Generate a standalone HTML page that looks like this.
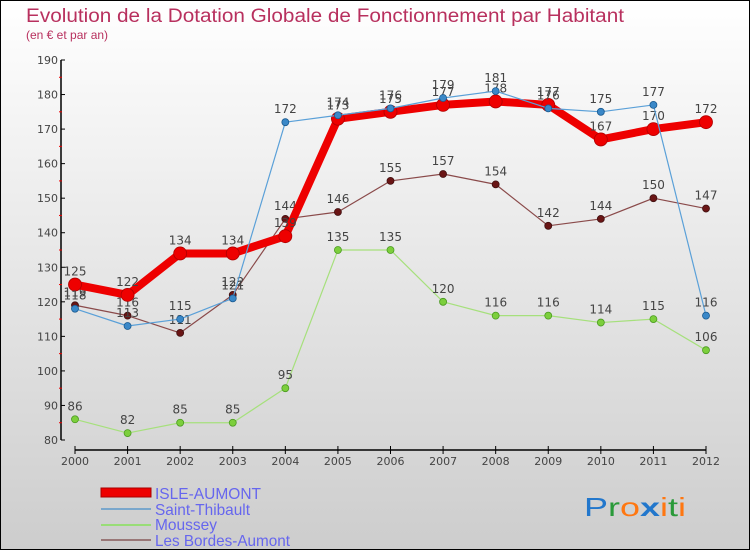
<!DOCTYPE html>
<html><head><meta charset="utf-8"><style>
body{margin:0;}
svg{display:block;font-family:"DejaVu Sans","Liberation Sans",sans-serif;}
</style></head><body>
<svg id="c" width="750" height="550" xmlns="http://www.w3.org/2000/svg">
<defs><linearGradient id="bg" x1="0" y1="0" x2="0" y2="1"><stop offset="0" stop-color="#ffffff"/><stop offset="1" stop-color="#cdcdcd"/></linearGradient></defs>
<rect x="0.5" y="0.5" width="749" height="549" fill="url(#bg)" stroke="#000"/>
<text x="26" y="22" font-size="19" fill="#b8305e" font-family="Liberation Sans, sans-serif" textLength="598" lengthAdjust="spacingAndGlyphs">Evolution de la Dotation Globale de Fonctionnement par Habitant</text>
<text x="26" y="39" font-size="12" fill="#b8305e" font-family="Liberation Sans, sans-serif">(en € et par an)</text>
<g id="axes"></g><g id="series"></g>
<g font-family="Liberation Sans, sans-serif">
<rect x="101" y="488" width="50" height="9" fill="#e00" stroke="#a00"/>
<text x="155" y="499" font-size="16" fill="#6666ee" textLength="106" lengthAdjust="spacingAndGlyphs">ISLE-AUMONT</text>
<line x1="101" y1="509" x2="151" y2="509" stroke="#7aa7cc" stroke-width="2"/>
<text x="155" y="515" font-size="16" fill="#6666ee" textLength="95" lengthAdjust="spacingAndGlyphs">Saint-Thibault</text>
<line x1="101" y1="525" x2="151" y2="525" stroke="#99dd77" stroke-width="2"/>
<text x="155" y="530" font-size="16" fill="#6666ee" textLength="62" lengthAdjust="spacingAndGlyphs">Moussey</text>
<line x1="101" y1="540" x2="151" y2="540" stroke="#997777" stroke-width="2"/>
<text x="155" y="546" font-size="16" fill="#6666ee" textLength="135" lengthAdjust="spacingAndGlyphs">Les Bordes-Aumont</text>
</g>
<g font-size="26" font-family="Liberation Sans, sans-serif">
<text x="584" y="516" textLength="102" lengthAdjust="spacingAndGlyphs"><tspan fill="#2277cc">P</tspan><tspan fill="#2a9a3a">r</tspan><tspan fill="#ff7711">o</tspan><tspan fill="#2277cc" font-weight="bold">x</tspan><tspan fill="#ff7711">i</tspan><tspan fill="#2a9a3a">t</tspan><tspan fill="#ff7711">i</tspan></text>
</g>
</svg>
<script>
const years=["2000","2001","2002","2003","2004","2005","2006","2007","2008","2009","2010","2011","2012"];
const yTicks=[80,90,100,110,120,130,140,150,160,170,180,190];
const isleAumont=[125,122,134,134,139,173,175,177,178,177,167,170,172];
const saintThibault=[118,113,115,121,172,174,176,179,181,176,175,177,116];
const moussey=[86,82,85,85,95,135,135,120,116,116,114,115,106];
const bordesAumont=[119,116,111,122,144,146,155,157,154,142,144,150,147];
const NS="http://www.w3.org/2000/svg";
const xS=i=>75+i*(706-75)/(years.length-1);
const yS=v=>440-(v-80)*(380/110);
function mk(t,a,p){const e=document.createElementNS(NS,t);for(const k in a)e.setAttribute(k,a[k]);p.appendChild(e);return e;}
const ax=document.getElementById('axes');
const yl=mk('line',{x1:61,y1:yS(190),x2:61,y2:yS(80),stroke:'#000','stroke-width':1.5},ax);


yTicks.forEach((v,i)=>{
 mk('line',{x1:61,y1:yS(v),x2:65,y2:yS(v),stroke:'#000'},ax);
 if(i<yTicks.length-1)mk('line',{x1:59,y1:yS(v+5),x2:62,y2:yS(v+5),stroke:'#e00'},ax);
 const t=mk('text',{x:58,y:yS(v)+4,'font-size':11,fill:'#444','text-anchor':'end'},ax);
 t.textContent=v;
 
 
});
const xl=mk('line',{x1:xS(0),y1:450,x2:xS(12),y2:450,stroke:'#000','stroke-width':1.5},ax);


years.forEach((y,i)=>{
 mk('line',{x1:xS(i),y1:446,x2:xS(i),y2:454,stroke:'#000'},ax);
 const t=mk('text',{x:xS(i),y:465,'font-size':11,fill:'#444','text-anchor':'middle'},ax);
 t.textContent=y;
 
 
});
const sg=document.getElementById('series');
function draw(vals,name,col,w,r,dot,dstroke){
 const g=mk('g',{},sg);
 
 
 mk('polyline',{points:vals.map((v,i)=>xS(i)+','+yS(v)).join(' '),fill:'none',stroke:col,'stroke-width':w,'stroke-linejoin':'round'},g);
 vals.forEach((v,i)=>{
  const c=mk('circle',{cx:xS(i),cy:yS(v),r:r,fill:dot,stroke:dstroke,'stroke-width':0.8},g);
  
  
  const t=mk('text',{x:xS(i),y:yS(v)-9,'font-size':12,fill:'#444','text-anchor':'middle'},g);
  t.textContent=v;
  
  
 });
}
draw(moussey,'moussey','#a6e07c',1.2,3.5,'#7ccf3c','#4a9a20');
draw(bordesAumont,'les-bordes-aumont','#8a4a4a',1.2,3.5,'#6a1515','#401010');
draw(isleAumont,'isle-aumont','#ee0000',8,6.5,'#ee0000','#b00000');
draw(saintThibault,'saint-thibault','#5aa0d8',1.2,3.5,'#3a88c8','#1a5a90');
</script>
</body></html>
